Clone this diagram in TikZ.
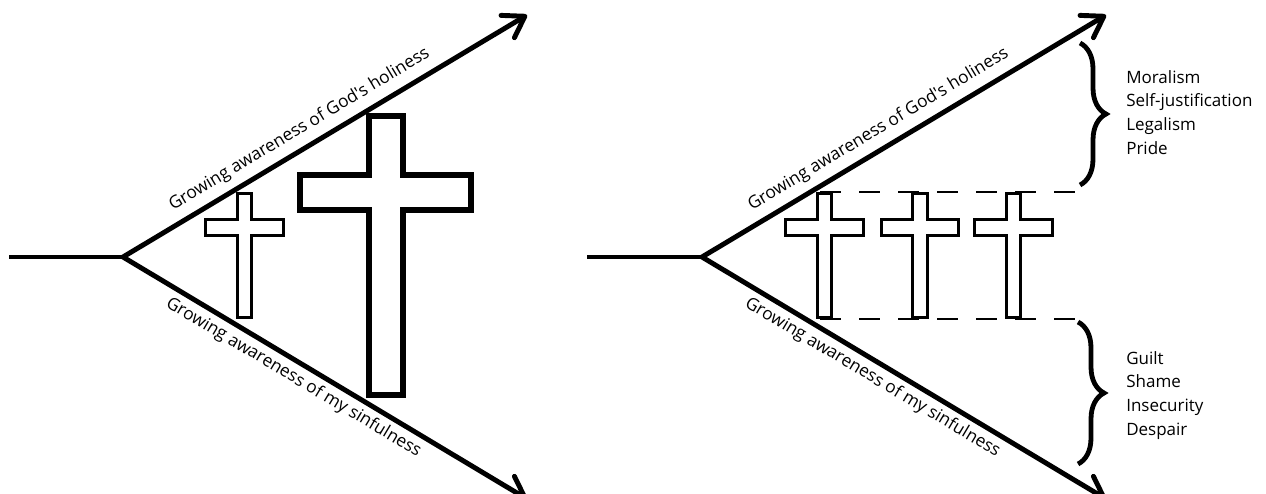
\documentclass[tikz,border=0pt]{standalone}
\usepackage{fontspec}
\newfontfamily\osans{Open Sans}
\usetikzlibrary{arrows.meta,decorations.pathreplacing,calc}
\begin{document}
\begin{tikzpicture}[x=0.75pt,y=-0.75pt,
  mainline/.style={line width=3.7pt},
  arrowline/.style={mainline,-{Straight Barb[length=15pt,width=19.5pt,round]}},
  smallcross/.style={line width=2pt,fill=white},
  bigcross/.style={line width=4.5pt,fill=white},
  dashline/.style={line width=1.5pt,dash pattern=on 15.75pt off 13.5pt},
  bracestyle/.style={line width=3.6pt,decorate,decoration={brace,amplitude=19.5pt}},
  labeltext/.style={font=\osans\fontsize{13pt}{15pt}\selectfont,inner sep=0pt,anchor=base},
  listtext/.style={font=\osans\fontsize{12.75pt}{15pt}\selectfont,inner sep=0pt,anchor=base west},
  crosspic/.pic={\path[pic actions] (-7.25,193.25) -- (7.25,193.25) -- (7.25,219.25) -- (38.75,219.25) -- (38.75,235.75) -- (7.25,235.75) -- (7.25,317.75) -- (-7.25,317.75) -- (-7.25,235.75) -- (-38.75,235.75) -- (-38.75,219.25) -- (-7.25,219.25) -- cycle;}
]
\useasboundingbox (0,0) rectangle (1266,493);

% ---------- left diagram ----------
\coordinate (hL) at (9,257);
\coordinate (vL) at (123,257);
\coordinate (uL) at (527,15);
\coordinate (dL) at (527,499);
\draw[mainline] (hL) -- (vL);
\draw[arrowline] (vL) -- (uL);
\draw[arrowline] (vL) -- (dL);

\pic[draw,smallcross] at (244.5,0) {crosspic};
\draw[bigcross] (369,116) -- (403,116) -- (403,175) -- (471,175) -- (471,210) -- (403,210) -- (403,395) -- (369,395) -- (369,210) -- (300,210) -- (300,175) -- (369,175) -- cycle;

\node[labeltext,rotate=30.92] (holyL) at (301.8,133.5) {Growing awareness of God's holiness};
\node[labeltext,rotate=-30.92] (sinL) at (291.2,381.6) {Growing awareness of my sinfulness};

% ---------- right diagram ----------
\coordinate (hR) at (587,257);
\coordinate (vR) at (702,257);
\coordinate (uR) at (1106,15);
\coordinate (dR) at (1106,499);
\draw[mainline] (hR) -- (vR);
\draw[arrowline] (vR) -- (uR);
\draw[arrowline] (vR) -- (dR);

\coordinate (dt1) at (820,192);
\coordinate (dt2) at (1075,192);
\coordinate (db1) at (820,319);
\coordinate (db2) at (1075,319);
\draw[dashline] (dt1) -- (dt2);
\draw[dashline] (db1) -- (db2);

\pic[draw,smallcross] at (824.5,0) {crosspic};
\pic[draw,smallcross] at (920,0) {crosspic};
\pic[draw,smallcross] at (1013.5,0) {crosspic};

\node[labeltext,rotate=30.92] (holyR) at (880.8,133.5) {Growing awareness of God's holiness};
\node[labeltext,rotate=-30.92] (sinR) at (870.2,381.6) {Growing awareness of my sinfulness};

\coordinate (bt1) at (1080,43);
\coordinate (bt2) at (1080,185);
\coordinate (bb1) at (1078,322);
\coordinate (bb2) at (1078,464);
\draw[bracestyle] (bt1) -- (bt2);
\draw[bracestyle] (bb1) -- (bb2);

\node[listtext] (m1) at (1126,83) {Moralism};
\node[listtext] (m2) at (1126,106.7) {Self-justification};
\node[listtext] (m3) at (1126,130.4) {Legalism};
\node[listtext] (m4) at (1126,154.1) {Pride};

\node[listtext] (g1) at (1126,364) {Guilt};
\node[listtext] (g2) at (1126,387.7) {Shame};
\node[listtext] (g3) at (1126,411.4) {Insecurity};
\node[listtext] (g4) at (1126,435.1) {Despair};
\end{tikzpicture}
\end{document}
